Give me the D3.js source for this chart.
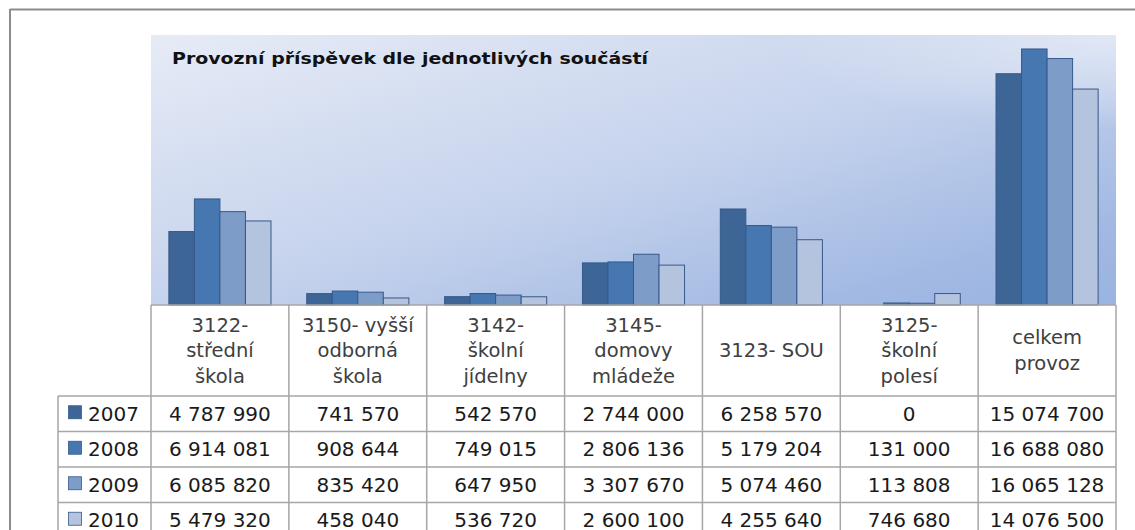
<!DOCTYPE html>
<html>
<head>
<meta charset="utf-8">
<script src="https://cdn.jsdelivr.net/npm/d3@7"></script>
<style>
  body { margin: 0; background: #fff; }
  text { font-family: "DejaVu Sans", sans-serif; }
</style>
</head>
<body>
<div id="chart"></div>
<script>
// Provozni prispevek - grouped bars with data table underneath

var categories = [
  ["3122-", "střední", "škola"],
  ["3150- vyšší", "odborná", "škola"],
  ["3142-", "školní", "jídelny"],
  ["3145-", "domovy", "mládeže"],
  ["3123- SOU"],
  ["3125-", "školní", "polesí"],
  ["celkem", "provoz"]
];
var years = ["2007", "2008", "2009", "2010"];
var values2007 = [4787990, 741570, 542570, 2744000, 6258570, 0, 15074700];
var values2008 = [6914081, 908644, 749015, 2806136, 5179204, 131000, 16688080];
var values2009 = [6085820, 835420, 647950, 3307670, 5074460, 113808, 16065128];
var values2010 = [5479320, 458040, 536720, 2600100, 4255640, 746680, 14076500];
var colors = ["#3d6596", "#4677b0", "#7e9cc8", "#b4c3de"];

var series = [values2007, values2008, values2009, values2010];
var W = 1135, H = 530;

var svg = d3.select("#chart").append("svg")
  .attr("width", W).attr("height", H);

// outer frame
svg.append("line").attr("x1", 10).attr("x2", W).attr("y1", 9.5).attr("y2", 9.5)
  .attr("stroke", "#8c8c8c").attr("stroke-width", 2);
svg.append("line").attr("x1", 10).attr("x2", 10).attr("y1", 9).attr("y2", H)
  .attr("stroke", "#8c8c8c").attr("stroke-width", 2);

var plotLeft = 151, plotRight = 1116, plotTop = 35, base = 305;

// background gradient
var defs = svg.append("defs");
var lg = defs.append("linearGradient").attr("id", "bg")
  .attr("x1", 0).attr("y1", 0).attr("x2", 1).attr("y2", 1);
lg.append("stop").attr("offset", 0).attr("stop-color", "#e6ebf6");
lg.append("stop").attr("offset", 0.5).attr("stop-color", "#c6d3ed");
lg.append("stop").attr("offset", 0.85).attr("stop-color", "#a1b9e3");
lg.append("stop").attr("offset", 1).attr("stop-color", "#9ab3e0");
var rg = defs.append("radialGradient").attr("id", "hl")
  .attr("cx", 1).attr("cy", 0).attr("r", 0.35);
rg.append("stop").attr("offset", 0).attr("stop-color", "#e4eaf6").attr("stop-opacity", 0.9);
rg.append("stop").attr("offset", 1).attr("stop-color", "#e4eaf6").attr("stop-opacity", 0);

svg.append("rect").attr("x", plotLeft).attr("y", plotTop)
  .attr("width", plotRight - plotLeft).attr("height", base - plotTop).attr("fill", "url(#bg)");
svg.append("rect").attr("x", plotLeft).attr("y", plotTop)
  .attr("width", plotRight - plotLeft).attr("height", base - plotTop).attr("fill", "url(#hl)");

svg.append("text").attr("x", 172).attr("y", 64)
  .attr("font-size", 16.5).attr("font-weight", "bold").attr("fill", "#111")
  .attr("textLength", 476).attr("lengthAdjust", "spacingAndGlyphs")
  .text("Provozní příspěvek dle jednotlivých součástí");

// scales
var x0 = d3.scaleBand().domain(d3.range(categories.length)).range([plotLeft, plotRight]);
var x1 = d3.scaleBand().domain(d3.range(years.length)).range([0, x0.bandwidth()])
  .paddingOuter(0.7);
var y = d3.scaleLinear().domain([0, 17600000]).range([base, plotTop]);

var groups = svg.selectAll("g.grp").data(categories).enter().append("g")
  .attr("class", "grp")
  .attr("transform", function(d, i) { return "translate(" + x0(i) + ",0)"; });

groups.selectAll("rect").data(function(d, i) {
    return series.map(function(s, k) { return { k: k, v: s[i] }; });
  }).enter().append("rect")
  .attr("x", function(d) { return x1(d.k); })
  .attr("y", function(d) { return y(d.v); })
  .attr("width", x1.bandwidth())
  .attr("height", function(d) { return base - y(d.v); })
  .attr("fill", function(d) { return colors[d.k]; })
  .attr("stroke", "#36598a")
  .attr("stroke-width", 1)
  .style("display", function(d) { return d.v > 0 ? null : "none"; });

// data table
var grid = "#a6a6a6";
var headBottom = 396, rowH = 35.5;
var legLeft = 58;
var tbl = svg.append("g");

// horizontal lines
tbl.append("line").attr("x1", plotLeft).attr("x2", plotRight).attr("y1", base).attr("y2", base)
  .attr("stroke", grid).attr("stroke-width", 1.5);
d3.range(years.length + 1).forEach(function(r) {
  var yy = headBottom + r * rowH;
  tbl.append("line").attr("x1", legLeft).attr("x2", plotRight).attr("y1", yy).attr("y2", yy)
    .attr("stroke", grid).attr("stroke-width", 1.5);
});
// vertical lines
tbl.append("line").attr("x1", legLeft).attr("x2", legLeft)
  .attr("y1", headBottom).attr("y2", H).attr("stroke", grid).attr("stroke-width", 1.5);
d3.range(categories.length + 1).forEach(function(c) {
  var xx = plotLeft + c * x0.step();
  tbl.append("line").attr("x1", xx).attr("x2", xx).attr("y1", base).attr("y2", H)
    .attr("stroke", grid).attr("stroke-width", 1.5);
});

// header labels
var headMid = (base + headBottom) / 2;
categories.forEach(function(lines, i) {
  var cx = x0(i) + x0.bandwidth() / 2;
  var t = tbl.append("text").attr("text-anchor", "middle")
    .attr("font-size", 19.5).attr("fill", "#404040");
  lines.forEach(function(l, j) {
    t.append("tspan").attr("x", cx)
      .attr("y", headMid + 6.5 - (lines.length - 1) * 12.75 + j * 25.5)
      .text(l);
  });
});

// values
var fmt = d3.formatLocale({ decimal: ",", thousands: "\u00a0", grouping: [3], currency: ["", ""] }).format(",d");
years.forEach(function(yr, r) {
  var cy = headBottom + r * rowH + rowH / 2 + 7;
  tbl.append("rect").attr("x", 68.5).attr("y", cy - 15).attr("width", 13).attr("height", 13)
    .attr("fill", colors[r]).attr("stroke", "#36598a").attr("stroke-width", 0.8);
  tbl.append("text").attr("x", 88).attr("y", cy)
    .attr("font-size", 20).attr("fill", "#1a1a1a").text(yr);
  series[r].forEach(function(v, i) {
    tbl.append("text").attr("x", x0(i) + x0.bandwidth() / 2).attr("y", cy)
      .attr("text-anchor", "middle").attr("font-size", 20).attr("fill", "#1a1a1a")
      .text(fmt(v));
  });
});
</script>
</body>
</html>
